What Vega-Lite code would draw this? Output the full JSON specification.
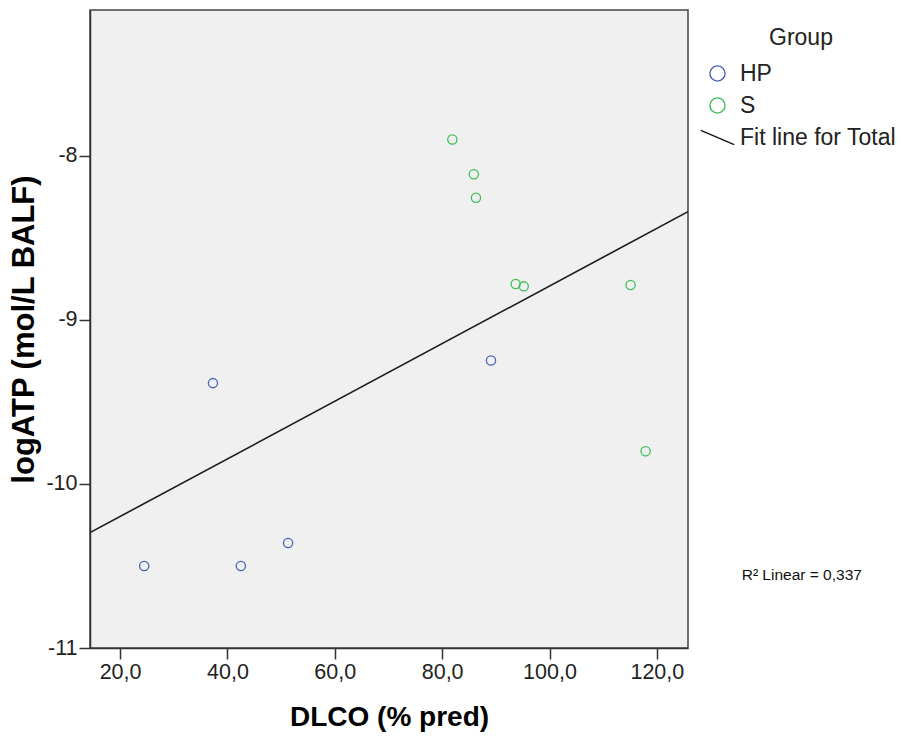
{
  "$schema": "https://vega.github.io/schema/vega-lite/v6.json",
  "autosize": {"type": "none"},
  "padding": {"left": 90, "top": 10, "right": 213, "bottom": 88},
  "width": 598,
  "height": 638,
  "background": "white",
  "data": {
    "values": [
      {"DLCO": 24.5, "logATP": -10.5, "Group": "HP"},
      {"DLCO": 42.5, "logATP": -10.5, "Group": "HP"},
      {"DLCO": 51.3, "logATP": -10.36, "Group": "HP"},
      {"DLCO": 37.3, "logATP": -9.385, "Group": "HP"},
      {"DLCO": 89.1, "logATP": -9.247, "Group": "HP"},
      {"DLCO": 81.9, "logATP": -7.9, "Group": "S"},
      {"DLCO": 85.9, "logATP": -8.111, "Group": "S"},
      {"DLCO": 86.3, "logATP": -8.255, "Group": "S"},
      {"DLCO": 93.7, "logATP": -8.781, "Group": "S"},
      {"DLCO": 95.2, "logATP": -8.795, "Group": "S"},
      {"DLCO": 115.1, "logATP": -8.787, "Group": "S"},
      {"DLCO": 117.9, "logATP": -9.8, "Group": "S"}
    ]
  },
  "layer": [
    {
      "transform": [{"regression": "logATP", "on": "DLCO", "extent": [14.4, 125.8]}],
      "mark": {"type": "line", "color": "#1a1a1a", "strokeWidth": 1.6, "clip": true},
      "encoding": {
        "x": {"field": "DLCO", "type": "quantitative"},
        "y": {"field": "logATP", "type": "quantitative"}
      }
    },
    {
      "mark": {"type": "point", "filled": false, "size": 85, "strokeWidth": 1.3, "opacity": 1},
      "encoding": {
        "x": {
          "field": "DLCO", "type": "quantitative",
          "scale": {"domain": [14.4, 125.8], "nice": false, "zero": false},
          "axis": {"values": [20, 40, 60, 80, 100, 120], "format": ".1f", "title": "DLCO (% pred)", "titleFontSize": 28, "titlePadding": 21}
        },
        "y": {
          "field": "logATP", "type": "quantitative",
          "scale": {"domain": [-11, -7.11], "nice": false, "zero": false},
          "axis": {"values": [-11, -10, -9, -8], "format": "d", "title": "logATP (mol/L BALF)", "titleFontSize": 31, "titlePadding": 5}
        },
        "color": {
          "field": "Group", "type": "nominal",
          "scale": {"domain": ["HP", "S", "Fit line for Total"], "range": ["#4A62B8", "#3CBF55", "#111111"]},
          "legend": {
            "title": "Group",
            "orient": "none",
            "legendX": 616,
            "legendY": 17,
            "titleAnchor": "middle"
          }
        },
        "shape": {
          "field": "Group", "type": "nominal",
          "scale": {"domain": ["HP", "S", "Fit line for Total"], "range": ["circle", "circle", "M-2.2,-0.95L2.2,0.95"]},
          "legend": {
            "title": "Group",
            "orient": "none",
            "legendX": 616,
            "legendY": 17,
            "titleAnchor": "middle"
          }
        }
      }
    },
    {
      "data": {"values": [{"label": "R² Linear = 0,337"}]},
      "mark": {"type": "text", "fontSize": 15.5, "font": "Liberation Sans", "align": "center", "baseline": "middle", "color": "#111"},
      "encoding": {
        "x": {"datum": 147},
        "y": {"datum": -10.555},
        "text": {"field": "label"}
      }
    }
  ],
  "config": {
    "locale": {"number": {"decimal": ",", "thousands": ".", "grouping": [3], "currency": ["", " €"], "minus": "-"}},
    "font": "Liberation Sans",
    "view": {"fill": "#F0F0F0", "stroke": "#444444", "strokeWidth": 1.5},
    "axis": {
      "grid": false,
      "labelFont": "Liberation Sans",
      "labelFontSize": 21.5,
      "labelColor": "#222222",
      "labelPadding": 2,
      "tickSize": 11,
      "tickWidth": 1.5,
      "tickColor": "#333333",
      "domainColor": "#333333",
      "domainWidth": 1.5,
      "titleFont": "Liberation Sans",
      "titleFontWeight": "bold",
      "titleColor": "#000000"
    },
    "legend": {
      "titleFont": "Liberation Sans",
      "titleFontSize": 23,
      "titleFontWeight": "normal",
      "titleColor": "#222222",
      "titlePadding": 12,
      "labelFont": "Liberation Sans",
      "labelFontSize": 23,
      "labelColor": "#222222",
      "labelOffset": 11,
      "symbolSize": 230,
      "symbolStrokeWidth": 1.4,
      "rowPadding": 8,
      "padding": 0
    }
  }
}
